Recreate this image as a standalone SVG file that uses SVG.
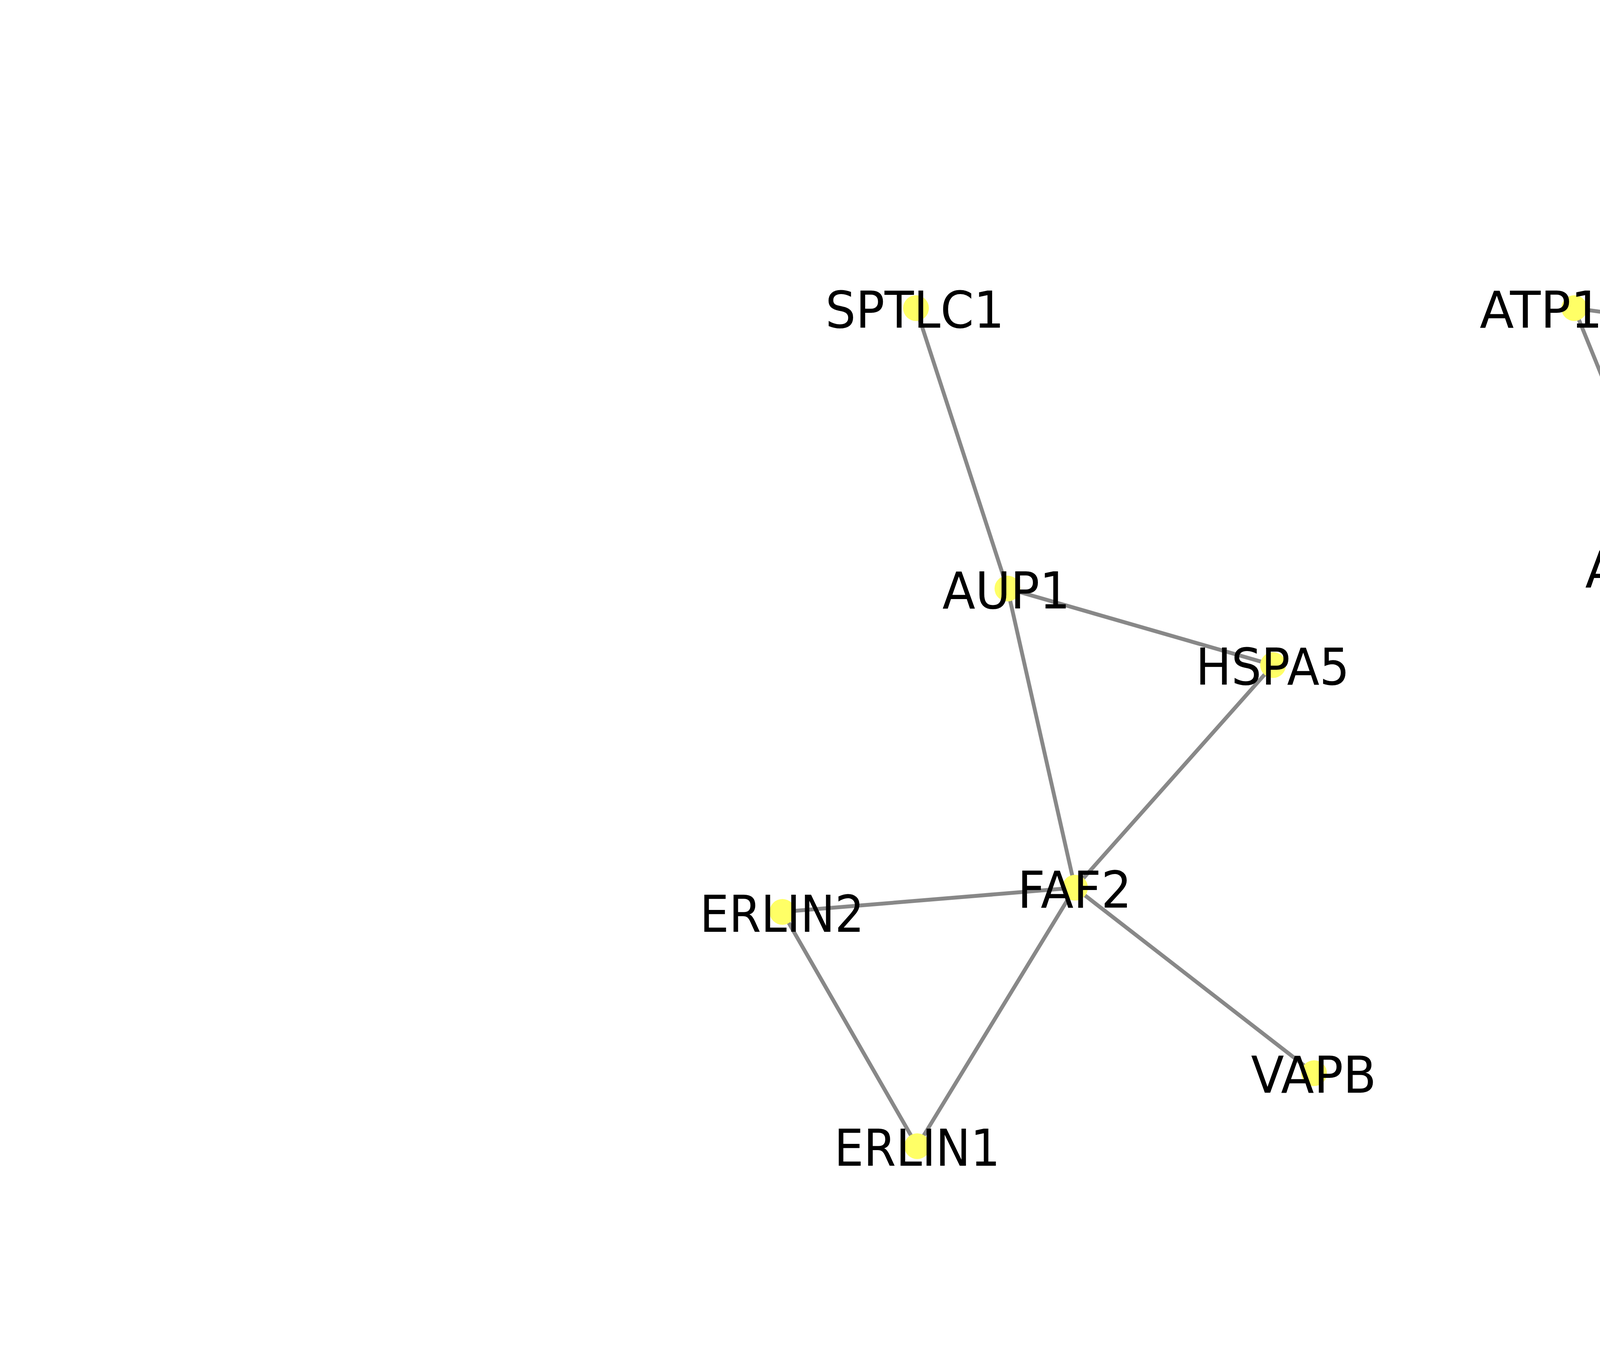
<svg xmlns="http://www.w3.org/2000/svg" width="6345" height="3485" viewBox="0 0 6345 3485">
<style>
.e{stroke:#888888;stroke-width:10;fill:none}
.n{fill:#FFFF66}
.t{font-family:"DejaVu Sans","Liberation Sans",sans-serif;font-size:130px;fill:#000000;text-anchor:middle}
</style>
<rect width="6345" height="3485" fill="#ffffff"/>
<g id="edges">
<line class="e" x1="2345" y1="789" x2="2579" y2="1507"/>
<line class="e" x1="2579" y1="1507" x2="3259" y2="1703"/>
<line class="e" x1="2579" y1="1507" x2="2752" y2="2273"/>
<line class="e" x1="3259" y1="1703" x2="2752" y2="2273"/>
<line class="e" x1="2752" y1="2273" x2="2003" y2="2335"/>
<line class="e" x1="2752" y1="2273" x2="2348" y2="2935"/>
<line class="e" x1="2752" y1="2273" x2="3364" y2="2748"/>
<line class="e" x1="2003" y1="2335" x2="2348" y2="2935"/>
<line class="e" x1="4030" y1="789" x2="4740" y2="887"/>
<line class="e" x1="4030" y1="789" x2="4300" y2="1454"/>
<line class="e" x1="4740" y1="887" x2="4300" y2="1454"/>
</g>
<g id="SPTLC1"><circle class="n" cx="2345" cy="789" r="33"/><text class="t" x="2342" y="839" textLength="458" lengthAdjust="spacingAndGlyphs">SPTLC1</text></g>
<g id="AUP1"><circle class="n" cx="2579" cy="1507" r="33"/><text class="t" x="2576" y="1558" textLength="327" lengthAdjust="spacingAndGlyphs">AUP1</text></g>
<g id="HSPA5"><circle class="n" cx="3259" cy="1703" r="33"/><text class="t" x="3258" y="1753" textLength="394" lengthAdjust="spacingAndGlyphs">HSPA5</text></g>
<g id="FAF2"><circle class="n" cx="2752" cy="2273" r="33"/><text class="t" x="2751" y="2324" textLength="292" lengthAdjust="spacingAndGlyphs">FAF2</text></g>
<g id="ERLIN2"><circle class="n" cx="2003" cy="2335" r="33"/><text class="t" x="2002" y="2386" textLength="421" lengthAdjust="spacingAndGlyphs">ERLIN2</text></g>
<g id="ERLIN1"><circle class="n" cx="2348" cy="2935" r="33"/><text class="t" x="2348" y="2985" textLength="425" lengthAdjust="spacingAndGlyphs">ERLIN1</text></g>
<g id="VAPB"><circle class="n" cx="3364" cy="2748" r="33"/><text class="t" x="3363" y="2798" textLength="321" lengthAdjust="spacingAndGlyphs">VAPB</text></g>
<g id="ATP1A3"><circle class="n" cx="4030" cy="789" r="33"/><text class="t" x="4030" y="839" textLength="484" lengthAdjust="spacingAndGlyphs">ATP1A3</text></g>
<g id="ATP1A2"><circle class="n" cx="4740" cy="887" r="33"/><text class="t" x="4740" y="937" textLength="482" lengthAdjust="spacingAndGlyphs">ATP1A2</text></g>
<g id="ATP1A1"><circle class="n" cx="4300" cy="1454" r="33"/><text class="t" x="4300" y="1504" textLength="484" lengthAdjust="spacingAndGlyphs">ATP1A1</text></g>
</svg>
